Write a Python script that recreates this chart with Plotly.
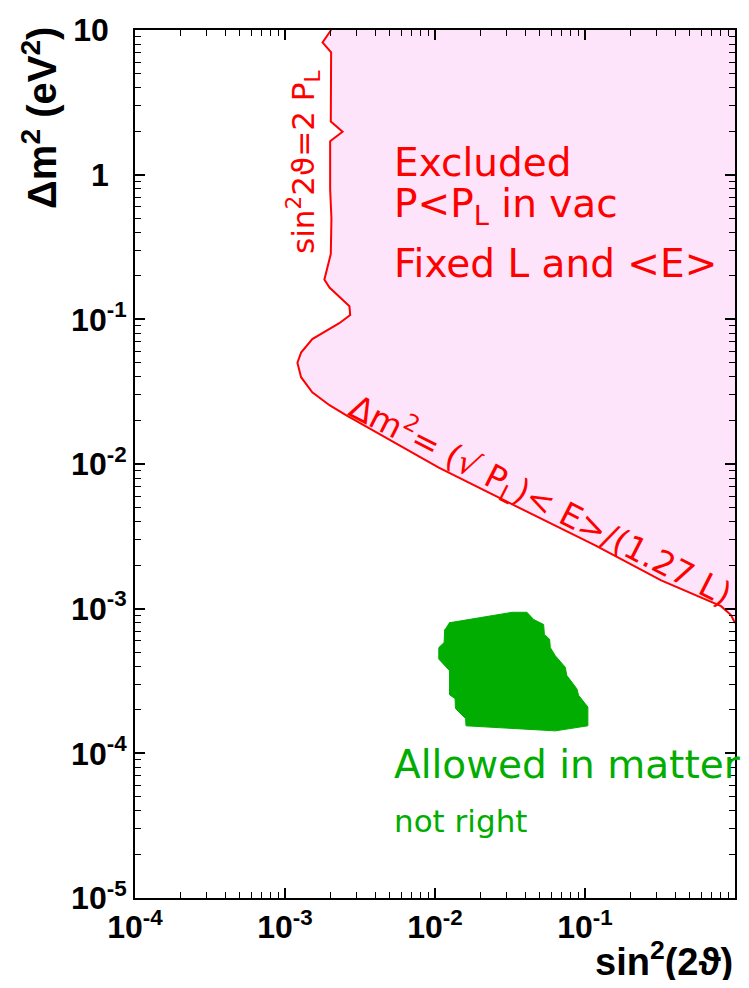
import plotly.graph_objects as go

# Exclusion boundary (sin^2 2theta, delta m^2 [eV^2])
bound_s2 = [2.03e-3, 1.78e-3, 2.03e-3, 2.02e-3, 2.42e-3, 2.00e-3, 2.00e-3, 2.04e-3,
            2.02e-3, 1.83e-3, 1.98e-3, 2.69e-3, 2.72e-3, 2.30e-3, 1.52e-3, 1.28e-3,
            1.21e-3, 1.28e-3, 1.52e-3, 1.98e-3, 2.55e-3, 1.06e-2, 3.25e-2, 0.117,
            0.322, 0.807, 0.94, 1.0]
bound_dm2 = [10.0, 8.2, 7.0, 2.33, 1.98, 1.70, 0.79, 0.50,
             0.283, 0.188, 0.166, 0.123, 0.107, 0.094, 0.0731, 0.0589,
             0.0501, 0.0398, 0.0313, 0.0255, 0.0218, 9.44e-3, 5.28e-3, 2.74e-3,
             1.57e-3, 1.04e-3, 9.04e-4, 7.96e-4]

# Allowed-in-matter region outline
allow_s2 = [1.24e-2, 3.27e-2, 4.10e-2, 4.55e-2, 5.30e-2, 5.36e-2, 5.81e-2, 5.87e-2,
            6.34e-2, 7.38e-2, 7.57e-2, 8.83e-2, 9.06e-2, 0.1045, 0.1045, 6.34e-2,
            1.61e-2, 1.60e-2, 1.37e-2, 1.36e-2, 1.25e-2, 1.25e-2, 1.06e-2, 1.06e-2,
            1.15e-2, 1.16e-2]
allow_dm2 = [7.98e-4, 9.44e-4, 9.44e-4, 8.41e-4, 7.78e-4, 6.64e-4, 6.14e-4, 5.38e-4,
             4.73e-4, 3.94e-4, 3.45e-4, 2.79e-4, 2.52e-4, 2.09e-4, 1.55e-4, 1.43e-4,
             1.55e-4, 1.74e-4, 2.04e-4, 2.39e-4, 2.54e-4, 3.73e-4, 4.48e-4, 5.38e-4,
             5.83e-4, 7.19e-4]

# Axis limits and tick labels
x_lim = [1e-4, 1.0]
y_lim = [1e-5, 10.0]
x_tickvals = [1e-4, 1e-3, 1e-2, 1e-1]
x_ticktext = ["10<sup>-4</sup>", "10<sup>-3</sup>", "10<sup>-2</sup>", "10<sup>-1</sup>"]
y_tickvals = [1e-5, 1e-4, 1e-3, 1e-2, 1e-1, 1, 10]
y_ticktext = ["10<sup>-5</sup>", "10<sup>-4</sup>", "10<sup>-3</sup>", "10<sup>-2</sup>",
              "10<sup>-1</sup>", "1\u00a0\u00a0", "10\u00a0\u00a0"]

RED = "#ff0000"
GREEN = "#00ad00"
PINK = "#fde4fa"

fig = go.Figure()

# excluded region fill: boundary closed via the top-right corner of the frame
fig.add_trace(go.Scatter(
    x=bound_s2 + [x_lim[1]], y=bound_dm2 + [y_lim[1]],
    mode="lines", fill="toself", fillcolor=PINK, line=dict(width=0),
    hoverinfo="skip", showlegend=False))
fig.add_trace(go.Scatter(
    x=bound_s2, y=bound_dm2, mode="lines",
    line=dict(color=RED, width=2), showlegend=False))
fig.add_trace(go.Scatter(
    x=allow_s2, y=allow_dm2, mode="lines", fill="toself",
    fillcolor=GREEN, line=dict(color=GREEN, width=1), showlegend=False))

def minor_vals(lo, hi):
    return [m * 10.0 ** e for e in range(lo, hi) for m in range(2, 10)]

axis_common = dict(
    type="log", showgrid=False, zeroline=False, showline=True,
    linecolor="black", linewidth=2, mirror="allticks", ticks="inside",
    ticklen=10, tickwidth=1.5, tickcolor="black", tickmode="array",
    ticklabeloverflow="allow",
    tickfont=dict(family="Liberation Sans", size=32, color="black", weight="bold"),
)

fig.update_xaxes(**axis_common, range=[-4, 0], tickvals=x_tickvals, ticktext=x_ticktext,
                 minor=dict(tickmode="array", tickvals=minor_vals(-4, 0), ticks="inside",
                            ticklen=6, tickwidth=1.2, tickcolor="black", showgrid=False))
fig.update_yaxes(**axis_common, range=[-5, 1], tickvals=y_tickvals, ticktext=y_ticktext,
                 minor=dict(tickmode="array", tickvals=minor_vals(-5, 1), ticks="inside",
                            ticklen=6, tickwidth=1.2, tickcolor="black", showgrid=False))

TXT = "DejaVu Sans"
ann = [
    dict(text="Excluded", x=0.4286, y=0.8474, xanchor="left", yanchor="middle",
         font=dict(family=TXT, size=39, color=RED)),
    dict(text="P<P<sub>L</sub> in vac", x=0.4286, y=0.7975, xanchor="left", yanchor="middle",
         font=dict(family=TXT, size=39, color=RED)),
    dict(text="Fixed L and <E>", x=0.4286, y=0.7306, xanchor="left", yanchor="middle",
         font=dict(family=TXT, size=39, color=RED)),
    dict(text="sin<sup>2</sup>2ϑ=2 P<sub>L</sub>", x=0.2807, y=0.8485, textangle=-90,
         xanchor="center", yanchor="middle", font=dict(family=TXT, size=31, color=RED)),
    dict(text="Δm<sup>2</sup>= (√ P<sub>L</sub>)< E>/(1.27 L)", x=0.676, y=0.4585,
         textangle=27, xanchor="center", yanchor="middle",
         font=dict(family=TXT, size=33, color=RED)),
    dict(text="Allowed in matter", x=0.4286, y=0.1538, xanchor="left", yanchor="middle",
         font=dict(family=TXT, size=39, color=GREEN)),
    dict(text="not right", x=0.4286, y=0.0888, xanchor="left", yanchor="middle",
         font=dict(family=TXT, size=31, color=GREEN)),
    dict(text="sin<sup>2</sup>(2ϑ)", x=1.0, y=-0.0706, xanchor="right", yanchor="middle",
         font=dict(family="Liberation Sans", size=38, color="black", weight="bold")),
    dict(text="Δm<sup>2</sup> (eV<sup>2</sup>)", x=-0.1587, y=0.8985, textangle=-90,
         xanchor="center", yanchor="middle",
         font=dict(family="Liberation Sans", size=40, color="black", weight="bold")),
]
for a in ann:
    a.update(xref="paper", yref="paper", showarrow=False)
fig.update_layout(annotations=ann)

# the page body adds an 8px margin, so the figure is sized to fit 749x988 with it
fig.update_layout(
    width=733, height=972,
    margin=dict(l=127, r=4, t=12, b=82),
    plot_bgcolor="white", paper_bgcolor="white",
    showlegend=False,
)

fig.write_html("out.html")
